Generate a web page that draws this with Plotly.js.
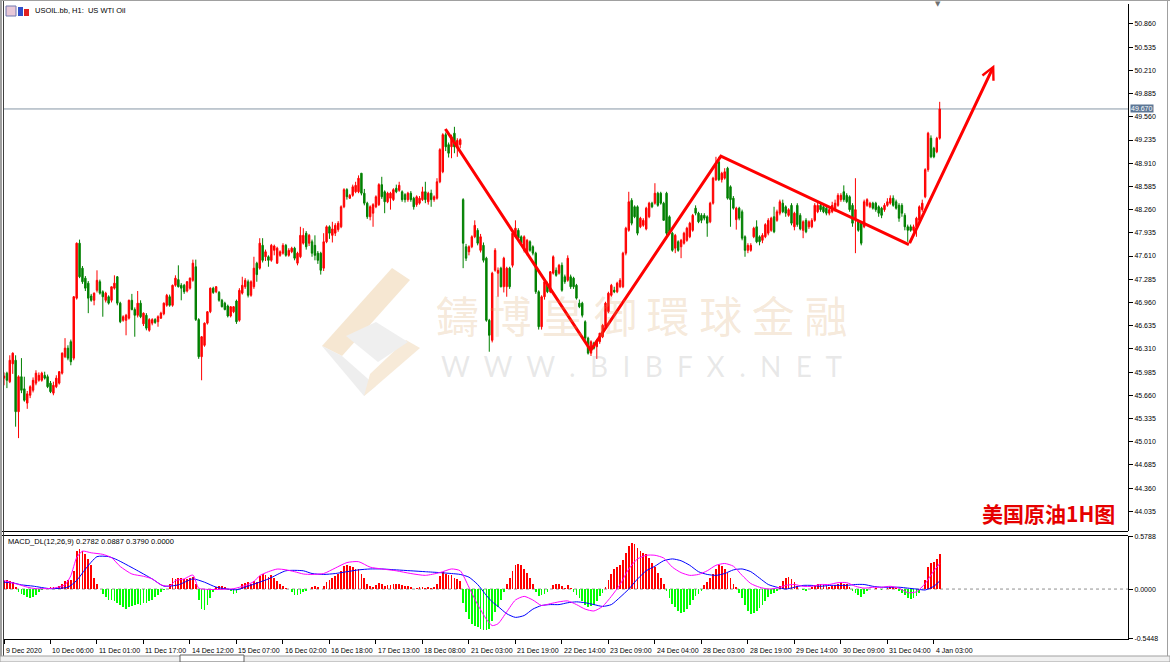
<!DOCTYPE html>
<html>
<head>
<meta charset="utf-8">
<script src="https://cdn.plot.ly/plotly-3.0.1.min.js"></script>
<style>
html,body{margin:0;padding:0;background:#ffffff;}
#chart{width:1170px;height:662px;}
</style>
</head>
<body>
<div id="chart"></div>
<script>
// ---------------- DATA ----------------
const openP = [
45.90,45.97,45.85,46.10,46.15,45.43,45.92,45.75,45.55,45.66,
45.73,45.83,45.87,45.87,45.94,45.92,45.83,45.69,45.78,45.83,
45.97,46.20,46.32,46.41,46.18,47.02,47.79,47.44,47.30,47.23,
47.05,46.99,47.13,47.25,47.11,46.99,47.04,46.99,47.16,47.32,
46.95,46.71,46.71,46.74,46.99,46.86,46.78,46.95,46.66,46.78,
46.57,46.67,46.72,46.69,46.74,46.80,46.92,47.04,46.92,47.20,
47.28,47.20,47.20,47.12,47.16,47.27,47.46,46.72,46.20,46.36,
46.67,46.83,47.16,47.11,47.10,46.99,46.95,46.91,46.77,46.83,
46.98,46.71,47.09,47.18,47.25,47.06,47.18,47.51,47.44,47.76,
47.60,47.60,47.55,47.69,47.51,47.62,47.65,47.76,47.62,47.67,
47.72,47.51,47.60,47.79,47.93,47.79,47.81,47.76,47.65,47.65,
47.44,47.81,48.02,47.90,47.93,47.98,48.02,48.30,48.54,48.42,
48.46,48.51,48.51,48.77,48.49,48.35,48.16,48.21,48.30,48.33,
48.61,48.51,48.37,48.42,48.40,48.56,48.53,48.51,48.47,48.40,
48.49,48.42,48.33,48.35,48.40,48.51,48.37,48.49,48.40,48.42,
48.65,48.79,49.31,49.17,49.14,49.33,49.14,49.17,48.40,47.74,
47.67,47.74,47.88,47.97,47.69,47.76,47.58,46.71,46.43,47.41,
47.37,47.44,47.18,47.18,47.44,47.48,47.88,47.97,47.88,47.69,
47.65,47.81,47.74,47.65,47.11,46.62,47.04,47.22,47.11,47.37,
47.41,47.37,47.48,47.32,47.27,47.32,47.30,47.20,46.95,46.95,
46.69,46.46,46.25,46.39,46.34,46.41,46.48,46.62,46.83,47.06,
47.13,47.11,47.18,47.18,47.65,47.97,48.39,48.30,48.30,48.02,
48.04,47.99,48.16,48.35,48.35,48.49,48.49,48.35,48.49,48.16,
47.93,47.72,47.81,47.74,47.79,47.83,47.88,47.97,48.28,48.21,
48.18,48.18,48.16,48.09,48.35,48.68,48.93,48.68,48.70,48.84,
48.58,48.42,48.12,48.28,48.23,47.88,47.69,47.69,47.88,48.02,
47.88,47.83,47.88,47.93,47.97,48.16,48.11,48.21,48.35,48.30,
48.18,48.32,48.02,48.32,48.18,47.97,48.11,48.02,48.02,48.11,
48.23,48.32,48.30,48.28,48.21,48.23,48.26,48.32,48.40,48.51,
48.46,48.44,48.32,48.12,48.09,48.07,48.02,48.32,48.30,48.35,
48.35,48.30,48.28,48.26,48.32,48.35,48.42,48.37,48.32,48.32,
48.18,48.02,48.02,47.97,48.02,48.11,48.26,48.44,48.82,49.26,
49.12,49.07,49.26];

const highP = [
45.98,45.99,46.22,46.26,46.22,45.94,46.18,45.92,45.72,45.80,
45.91,46.01,45.98,45.99,45.99,45.95,45.86,45.85,45.94,46.00,
46.26,46.46,46.36,46.44,47.05,47.80,47.84,47.47,47.33,47.26,
47.08,47.10,47.41,47.28,47.13,47.11,47.06,47.18,47.34,47.33,
46.97,46.78,46.80,47.00,47.08,46.89,47.12,46.99,46.82,46.81,
46.74,46.74,46.74,46.78,46.83,46.96,47.08,47.07,47.21,47.34,
47.48,47.23,47.22,47.26,47.31,47.56,47.56,46.74,46.49,46.68,
46.84,47.17,47.18,47.19,47.12,47.01,46.97,46.93,46.91,46.91,
47.00,47.16,47.32,47.30,47.28,47.27,47.60,47.53,47.86,47.86,
47.70,47.62,47.78,47.77,47.74,47.69,47.79,47.78,47.72,47.74,
47.74,47.67,48.02,48.00,47.96,47.92,47.84,47.90,47.68,47.67,
47.93,48.04,48.04,48.09,48.07,48.10,48.32,48.56,48.56,48.48,
48.61,48.65,48.74,48.77,48.55,48.37,48.32,48.35,48.46,48.63,
48.72,48.53,48.51,48.51,48.56,48.61,48.65,48.53,48.49,48.51,
48.52,48.44,48.46,48.45,48.58,48.65,48.51,48.54,48.46,48.70,
49.12,49.33,49.34,49.20,49.31,49.42,49.26,49.26,48.42,47.78,
47.76,47.90,48.11,48.00,47.92,47.80,47.60,46.73,47.39,47.72,
47.45,47.46,47.60,47.46,47.46,47.95,48.11,48.00,47.90,47.90,
47.85,47.83,47.76,47.67,47.13,47.06,47.27,47.25,47.40,47.62,
47.45,47.50,47.52,47.35,47.62,47.35,47.32,47.22,47.00,46.97,
46.71,46.48,46.43,46.41,46.45,46.53,46.66,46.97,47.11,47.22,
47.18,47.25,47.30,47.67,48.02,48.51,48.42,48.32,48.32,48.16,
48.14,48.30,48.37,48.37,48.63,48.51,48.51,48.37,48.51,48.18,
47.95,47.92,47.83,47.85,47.95,48.02,48.09,48.20,48.32,48.23,
48.21,48.21,48.18,48.37,48.72,49.00,49.00,48.79,48.84,48.86,
48.60,48.45,48.30,48.30,48.26,47.90,47.79,47.79,48.02,48.11,
47.90,47.93,48.07,48.14,48.16,48.30,48.26,48.40,48.40,48.32,
48.28,48.35,48.23,48.35,48.21,48.11,48.14,48.11,48.14,48.35,
48.37,48.35,48.32,48.30,48.28,48.37,48.40,48.49,48.49,48.60,
48.49,48.46,48.35,48.70,48.11,48.09,48.40,48.42,48.37,48.37,
48.37,48.32,48.30,48.35,48.42,48.46,48.46,48.40,48.35,48.35,
48.21,48.05,48.05,48.05,48.16,48.32,48.40,48.84,49.35,49.30,
49.14,49.28,49.77];

const lowP = [
45.80,45.76,45.83,45.96,45.22,45.06,45.69,45.57,45.47,45.62,
45.70,45.80,45.85,45.85,45.88,45.76,45.69,45.66,45.76,45.81,
45.95,46.18,46.15,46.08,46.15,47.00,47.30,47.22,47.12,46.81,
46.97,46.92,47.10,47.07,46.76,46.96,46.93,46.96,47.14,46.92,
46.67,46.69,46.50,46.72,46.85,46.48,46.75,46.74,46.63,46.57,
46.55,46.64,46.66,46.62,46.73,46.78,46.90,46.90,46.90,47.18,
47.17,46.99,47.08,47.10,47.14,47.25,46.70,46.17,45.87,46.34,
46.65,46.81,47.08,47.09,46.97,46.89,46.85,46.75,46.75,46.81,
46.66,46.69,47.07,47.15,47.03,47.04,47.15,47.25,47.42,47.52,
47.54,47.46,47.53,47.62,47.50,47.60,47.63,47.60,47.60,47.65,
47.55,47.48,47.58,47.77,47.70,47.75,47.60,47.55,47.50,47.35,
47.40,47.79,47.85,47.80,47.89,47.95,48.00,48.28,48.40,48.41,
48.44,48.49,48.49,48.46,48.32,48.13,48.11,48.02,48.28,48.31,
48.41,48.21,48.35,48.26,48.38,48.49,48.51,48.37,48.36,48.37,
48.37,48.26,48.30,48.33,48.38,48.35,48.33,48.30,48.37,48.40,
48.63,48.77,49.08,48.99,48.98,49.05,49.00,49.12,47.44,47.54,
47.62,47.72,47.86,47.76,47.66,47.52,46.69,46.27,46.40,47.39,
47.04,47.17,47.10,47.04,47.15,47.45,47.86,47.85,47.78,47.66,
47.62,47.67,47.62,47.08,46.58,46.58,47.00,47.09,47.09,47.35,
47.32,47.35,47.11,47.22,47.25,47.15,47.15,47.00,46.88,46.75,
46.43,46.23,46.21,46.30,46.17,46.38,46.46,46.60,46.81,47.04,
47.09,47.09,47.16,47.16,47.62,47.95,48.04,48.14,47.90,48.00,
48.02,47.97,48.14,48.28,48.33,48.30,48.33,48.11,47.90,47.93,
47.67,47.65,47.67,47.58,47.77,47.81,47.86,47.95,48.18,48.07,
48.07,48.11,47.88,48.07,48.33,48.66,48.66,48.64,48.68,48.40,
48.02,48.26,47.98,48.11,47.83,47.60,47.65,47.67,47.86,47.79,
47.76,47.79,47.86,47.90,47.95,47.93,48.09,48.18,48.21,48.16,
48.16,48.04,47.97,48.02,47.97,47.86,47.93,47.99,48.00,48.09,
48.21,48.23,48.21,48.18,48.18,48.21,48.23,48.30,48.37,48.37,
48.35,48.23,48.02,47.65,47.95,47.76,48.00,48.30,48.28,48.26,
48.23,48.16,48.14,48.23,48.30,48.33,48.30,48.26,48.09,48.16,
47.97,47.81,47.95,47.95,47.88,48.09,48.23,48.42,48.79,48.98,
48.98,49.05,49.24];

const closeP = [
45.93,45.87,46.15,46.25,45.43,45.92,45.73,45.59,45.68,45.78,
45.87,45.97,45.94,45.97,45.90,45.78,45.71,45.80,45.90,45.99,
46.25,46.32,46.18,46.13,47.04,47.79,47.32,47.25,47.16,47.02,
46.99,47.09,47.27,47.09,47.04,47.09,46.95,47.18,47.23,46.95,
46.69,46.76,46.78,46.99,46.86,46.78,46.95,46.76,46.81,46.60,
46.72,46.72,46.68,46.76,46.81,46.95,47.06,46.92,47.20,47.30,
47.18,47.16,47.11,47.25,47.30,47.51,46.72,46.20,46.48,46.67,
46.83,47.16,47.10,47.18,46.99,46.90,46.86,46.77,46.90,46.90,
46.69,47.13,47.20,47.27,47.06,47.25,47.44,47.35,47.79,47.55,
47.67,47.55,47.76,47.75,47.72,47.67,47.76,47.62,47.69,47.72,
47.58,47.65,47.90,47.90,47.74,47.90,47.65,47.62,47.55,47.41,
47.81,48.02,47.93,47.99,48.04,48.07,48.30,48.54,48.44,48.46,
48.58,48.60,48.70,48.49,48.35,48.16,48.30,48.33,48.44,48.61,
48.44,48.37,48.49,48.49,48.54,48.51,48.60,48.40,48.40,48.49,
48.40,48.30,48.44,48.42,48.51,48.40,48.49,48.40,48.44,48.65,
49.10,49.31,49.14,49.05,49.28,49.14,49.23,49.24,47.79,47.58,
47.74,47.88,48.04,47.79,47.88,47.55,46.71,46.50,47.37,47.69,
47.41,47.18,47.58,47.44,47.18,47.93,48.00,47.86,47.79,47.88,
47.83,47.69,47.65,47.11,46.62,47.04,47.25,47.11,47.39,47.60,
47.34,47.48,47.13,47.25,47.58,47.18,47.18,47.02,46.90,46.78,
46.46,46.25,46.41,46.32,46.43,46.53,46.64,46.95,47.09,47.20,
47.11,47.23,47.27,47.65,48.00,48.37,48.07,48.16,47.93,48.14,
48.11,48.28,48.35,48.30,48.49,48.32,48.35,48.11,47.93,47.95,
47.69,47.90,47.69,47.83,47.93,48.00,48.07,48.18,48.21,48.09,
48.11,48.14,48.07,48.35,48.70,48.89,48.68,48.77,48.79,48.42,
48.40,48.28,48.28,48.14,47.86,47.69,47.76,47.76,48.00,47.81,
47.81,47.90,48.05,48.11,48.14,47.95,48.23,48.37,48.23,48.21,
48.26,48.07,48.21,48.05,47.99,48.09,47.95,48.09,48.11,48.32,
48.32,48.26,48.23,48.21,48.26,48.32,48.35,48.46,48.46,48.40,
48.37,48.26,48.07,48.26,47.97,47.79,48.37,48.40,48.35,48.28,
48.26,48.21,48.18,48.32,48.37,48.42,48.32,48.28,48.14,48.21,
48.02,47.97,47.97,48.02,48.14,48.30,48.35,48.82,49.33,49.00,
49.00,49.26,49.67];

// MACD histogram (one per bar)
const macdHist = [
0.09,0.10,0.09,0.08,0.02,-0.03,-0.05,-0.07,-0.09,-0.10,
-0.09,-0.06,-0.03,-0.01,0.00,0.01,0.02,0.02,0.01,0.03,
0.05,0.09,0.10,0.10,0.20,0.42,0.44,0.42,0.38,0.33,
0.26,0.12,0.05,0.00,-0.05,-0.09,-0.12,-0.12,-0.13,-0.15,
-0.18,-0.20,-0.22,-0.20,-0.19,-0.18,-0.16,-0.17,-0.15,-0.15,
-0.13,-0.12,-0.09,-0.06,-0.03,-0.01,0.00,0.05,0.12,0.11,
0.12,0.12,0.11,0.11,0.12,0.13,0.06,-0.12,-0.22,-0.23,
-0.18,-0.10,-0.03,0.02,0.03,0.03,0.02,-0.01,-0.02,-0.05,
-0.04,0.00,0.05,0.07,0.08,0.06,0.09,0.08,0.14,0.16,
0.15,0.13,0.15,0.12,0.09,0.06,0.03,0.01,0.00,-0.03,
-0.06,-0.06,-0.05,-0.03,-0.02,0.00,0.02,0.03,0.02,0.00,
0.03,0.08,0.10,0.12,0.14,0.16,0.20,0.25,0.26,0.25,
0.24,0.22,0.22,0.17,0.12,0.06,0.03,0.02,0.04,0.07,
0.05,0.03,0.04,0.04,0.05,0.05,0.06,0.04,0.03,0.03,
0.02,0.00,0.01,0.02,0.02,0.01,0.02,0.01,0.02,0.06,
0.14,0.19,0.17,0.15,0.15,0.12,0.11,0.09,-0.15,-0.25,
-0.33,-0.38,-0.40,-0.42,-0.44,-0.45,-0.45,-0.44,-0.35,-0.25,
-0.20,-0.12,-0.03,0.05,0.12,0.20,0.26,0.27,0.26,0.22,
0.18,0.12,0.05,-0.03,-0.08,-0.07,-0.05,-0.03,0.00,0.04,
0.05,0.06,0.03,0.01,0.04,0.01,-0.03,-0.07,-0.10,-0.13,
-0.17,-0.20,-0.19,-0.17,-0.13,-0.08,-0.04,0.02,0.10,0.17,
0.22,0.24,0.26,0.32,0.40,0.47,0.50,0.49,0.45,0.42,
0.40,0.38,0.34,0.28,0.24,0.18,0.12,0.06,-0.02,-0.10,
-0.16,-0.20,-0.24,-0.26,-0.25,-0.22,-0.18,-0.12,-0.08,-0.05,
-0.02,0.04,0.08,0.12,0.17,0.22,0.26,0.25,0.22,0.18,
0.12,0.06,0.02,-0.04,-0.10,-0.18,-0.24,-0.27,-0.26,-0.24,
-0.21,-0.17,-0.13,-0.09,-0.05,-0.04,-0.02,0.03,0.09,0.12,
0.13,0.11,0.08,0.03,0.00,-0.01,-0.02,0.00,0.02,0.04,
0.05,0.05,0.04,0.03,0.02,0.03,0.04,0.06,0.07,0.06,
0.05,0.02,-0.02,-0.04,-0.07,-0.09,-0.05,-0.02,0.00,0.00,
0.01,0.00,-0.01,0.00,0.01,0.02,0.02,0.01,-0.02,-0.04,
-0.07,-0.10,-0.11,-0.10,-0.08,-0.04,0.00,0.10,0.24,0.28,
0.30,0.33,0.379];

// MACD main line (magenta), read at these bar positions
const macdIdx = [0,5,8,11,17,21,23,25,27,30,34,37,40,44,48,51,54,57,59,62,65,67,70,74,79,83,86,88,91,94,97,100,103,106,110,114,118,122,126,130,135,140,145,150,154,157,160,163,166,168,170,173,176,179,182,185,188,191,194,197,200,203,206,209,212,215,218,221,224,227,230,233,236,239,242,245,248,251,254,257,260,263,266,269,272,275,278,281,284,287,290,293,296,299,302,305,308,311,314,317,320,322];
const macdLine = [0.093,0.05,0.021,0.004,0.01,0.046,0.147,0.344,0.415,0.397,0.38,0.344,0.247,0.165,0.14,0.111,0.046,0.032,0.093,0.111,0.154,0.01,-0.004,-0.004,0.004,0.039,0.082,0.147,0.19,0.219,0.211,0.19,0.165,0.16,0.17,0.23,0.29,0.30,0.24,0.22,0.20,0.17,0.15,0.18,0.22,0.20,0.02,-0.17,-0.33,-0.40,-0.38,-0.25,-0.12,-0.08,-0.12,-0.18,-0.16,-0.14,-0.13,-0.17,-0.22,-0.24,-0.19,-0.08,0.05,0.22,0.33,0.37,0.37,0.34,0.24,0.18,0.15,0.16,0.20,0.26,0.28,0.25,0.15,0.06,0.02,0.0,0.01,0.04,0.05,0.03,0.03,0.05,0.05,0.07,0.07,0.03,0.01,0.02,0.02,0.03,0.01,-0.04,-0.03,0.06,0.20,0.2782];

// Signal line (blue)
const signalIdx = [0,3,6,10,16,22,25,28,32,36,39,45,51,55,60,65,69,73,80,84,91,97,103,106,110,114,118,122,126,130,135,140,145,150,154,157,160,163,166,168,170,173,176,179,182,185,188,191,194,197,200,203,206,209,212,215,218,221,224,227,230,233,236,239,242,245,248,251,254,257,260,263,266,269,272,275,278,281,284,287,290,293,296,299,302,305,308,311,314,317,320,322];
const signalLine = [0.075,0.068,0.046,0.032,0.004,0.021,0.093,0.218,0.355,0.355,0.319,0.218,0.111,0.032,0.046,0.111,0.075,0.021,-0.008,0.032,0.111,0.20,0.20,0.17,0.16,0.17,0.19,0.21,0.22,0.22,0.21,0.20,0.19,0.18,0.17,0.16,0.13,0.05,-0.07,-0.14,-0.19,-0.27,-0.31,-0.29,-0.22,-0.18,-0.17,-0.17,-0.15,-0.14,-0.15,-0.17,-0.19,-0.17,-0.09,0.0,0.11,0.20,0.25,0.31,0.33,0.31,0.26,0.19,0.16,0.15,0.17,0.21,0.22,0.19,0.12,0.05,0.02,0.0,0.02,0.04,0.04,0.03,0.04,0.04,0.04,0.05,0.05,0.03,0.02,0.02,0.02,0.01,0.0,-0.01,0.03,0.0887];

// Hand-drawn trend path (bar position, price)
const trendIdx   = [151.9, 201.9, 246.7, 311.4, 340.8];
const trendPrice = [49.39, 46.29, 49.01, 47.77, 50.29];

const currentPrice = 49.670;

const priceTicks = [50.860,50.535,50.210,49.885,49.560,49.235,48.910,48.585,48.260,47.935,47.610,47.285,46.960,46.635,46.310,45.985,45.660,45.335,45.010,44.685,44.360,44.035];
const macdTicks = [0.5788, 0.0, -0.5448];
const macdTickText = ['0.5788','0.0000','-0.5448'];

const timeTickIdx = [0,16,32,48,64,80,96,112,128,144,160,176,192,208,224,240,256,272,288,304,320];
const timeTickLabels = ["9 Dec 2020","10 Dec 06:00","11 Dec 01:00","11 Dec 17:00","14 Dec 12:00","15 Dec 07:00","16 Dec 02:00","16 Dec 18:00","17 Dec 13:00","18 Dec 08:00","21 Dec 03:00","21 Dec 19:00","22 Dec 14:00","23 Dec 09:00","24 Dec 04:00","28 Dec 03:00","28 Dec 19:00","29 Dec 14:00","30 Dec 09:00","31 Dec 04:00","4 Jan 03:00"];

// ---------------- STYLE / LAYOUT ----------------
const W = 1170, H = 662;
const ML = 4, MR = 42, MT = 4, MB = 23;
const PW = W - ML - MR, PH = H - MT - MB;
const px2paperX = px => (px - ML) / PW;
const px2paperY = py => (H - MB - py) / PH;

const FONT = 'Liberation Sans, Arial, sans-serif';
const barIdx = closeP.map((_, i) => i);

const traces = [
  {
    type: 'candlestick', x: barIdx, open: openP, high: highP, low: lowP, close: closeP,
    xaxis: 'x', yaxis: 'y',
    increasing: {line: {color: '#ff0000', width: 1}, fillcolor: '#ff0000'},
    decreasing: {line: {color: '#008000', width: 1}, fillcolor: '#008000'},
    whiskerwidth: 0, hoverinfo: 'skip', showlegend: false
  },
  {
    type: 'scatter', mode: 'lines', x: trendIdx.slice(0, 4), y: trendPrice.slice(0, 4),
    xaxis: 'x', yaxis: 'y', line: {color: '#ff0000', width: 3}, hoverinfo: 'skip', showlegend: false
  },
  {
    type: 'bar', x: barIdx, y: macdHist, xaxis: 'x', yaxis: 'y2', width: 0.6,
    marker: {color: macdHist.map(v => v >= 0 ? '#ff0000' : '#00ff00'), line: {width: 0}},
    hoverinfo: 'skip', showlegend: false
  },
  {
    type: 'scatter', mode: 'lines', x: signalIdx, y: signalLine, xaxis: 'x', yaxis: 'y2',
    line: {color: '#0000ff', width: 1, shape: 'spline', smoothing: 0.6}, hoverinfo: 'skip', showlegend: false
  },
  {
    type: 'scatter', mode: 'lines', x: macdIdx, y: macdLine, xaxis: 'x', yaxis: 'y2',
    line: {color: '#ff00ff', width: 1, shape: 'spline', smoothing: 0.6}, hoverinfo: 'skip', showlegend: false
  }
];

const annotations = [];
// time labels (left-aligned after tick, as in MT4)
timeTickIdx.forEach((ix, k) => {
  annotations.push({
    x: ix, xref: 'x', y: px2paperY(650), yref: 'paper', xanchor: 'left', yanchor: 'middle',
    xshift: 0, text: timeTickLabels[k], showarrow: false, font: {family: FONT, size: 7, color: '#000'}
  });
});
// header
annotations.push({x: px2paperX(33), y: px2paperY(11), xref: 'paper', yref: 'paper', xanchor: 'left', yanchor: 'middle',
  text: 'USOIL.bb, H1:  US WTI Oil', showarrow: false, font: {family: FONT, size: 7.5, color: '#000'}});
annotations.push({x: px2paperX(6), y: px2paperY(541), xref: 'paper', yref: 'paper', xanchor: 'left', yanchor: 'middle',
  text: 'MACD_DL(12,26,9) 0.2782 0.0887 0.3790 0.0000', showarrow: false, font: {family: FONT, size: 7.5, color: '#000'}});
// watermark
annotations.push({x: px2paperX(641), y: px2paperY(314), xref: 'paper', yref: 'paper', xanchor: 'center', yanchor: 'middle',
  text: '鑄 博 皇 御 環 球 金 融', showarrow: false, font: {family: 'Noto Sans CJK TC', size: 43, color: 'rgba(215,160,95,0.24)'}});
annotations.push({x: px2paperX(641), y: px2paperY(366), xref: 'paper', yref: 'paper', xanchor: 'center', yanchor: 'middle',
  text: 'W\u00a0\u00a0W\u00a0\u00a0W\u00a0\u00a0.\u00a0\u00a0B\u00a0\u00a0I\u00a0\u00a0B\u00a0\u00a0F\u00a0\u00a0X\u00a0\u00a0.\u00a0\u00a0N\u00a0\u00a0E\u00a0\u00a0T',
  showarrow: false, font: {family: 'Lato, sans-serif', size: 28, color: 'rgba(150,150,150,0.22)'}});
// red caption
annotations.push({x: px2paperX(1117), y: px2paperY(513), xref: 'paper', yref: 'paper', xanchor: 'right', yanchor: 'middle',
  text: '<b>美国原油1H图</b>', showarrow: false, font: {family: 'Noto Sans CJK SC', size: 21, color: '#e60000'}});
// current price tag
annotations.push({x: 1, xref: 'paper', y: currentPrice, yref: 'y', xanchor: 'left', yanchor: 'middle', xshift: 2,
  text: currentPrice.toFixed(3), showarrow: false, bgcolor: '#5d7795', borderpad: 0,
  font: {family: FONT, size: 7, color: '#ffffff'}});
// arrow head of the trend path
annotations.push({x: trendIdx[4], y: trendPrice[4], xref: 'x', yref: 'y', ax: trendIdx[3], ay: trendPrice[3],
  axref: 'x', ayref: 'y', showarrow: true, arrowhead: 5, arrowsize: 0.8, arrowwidth: 3, arrowcolor: '#ff0000', text: ''});
// small shift marker at the top
annotations.push({x: px2paperX(938), y: px2paperY(4), xref: 'paper', yref: 'paper', xanchor: 'center', yanchor: 'middle',
  text: '▼', showarrow: false, font: {family: 'DejaVu Sans', size: 7, color: '#707070'}});

const shapes = [
  {type: 'line', xref: 'paper', x0: 0, x1: 1, yref: 'y', y0: currentPrice, y1: currentPrice, line: {color: '#8796a6', width: 1}, layer: 'below'},
  {type: 'line', xref: 'paper', x0: 0, x1: 1, yref: 'y2', y0: 0, y1: 0, line: {color: '#909090', width: 1, dash: 'dot'}, layer: 'below'},
  {type: 'line', xref: 'paper', yref: 'paper', x0: px2paperX(0), x1: 1, y0: px2paperY(531.5), y1: px2paperY(531.5), line: {color: '#000', width: 1}},
  {type: 'line', xref: 'paper', yref: 'paper', x0: px2paperX(0), x1: 1, y0: px2paperY(535.5), y1: px2paperY(535.5), line: {color: '#000', width: 1}},
  {type: 'line', xref: 'paper', yref: 'paper', x0: px2paperX(1), x1: px2paperX(1), y0: px2paperY(0), y1: px2paperY(656), line: {color: '#a0a0a0', width: 2}},
  {type: 'line', xref: 'paper', yref: 'paper', x0: px2paperX(3.5), x1: px2paperX(3.5), y0: px2paperY(0), y1: px2paperY(656), line: {color: '#404040', width: 1}},
  {type: 'line', xref: 'paper', yref: 'paper', x0: px2paperX(0), x1: px2paperX(1170), y0: px2paperY(0.5), y1: px2paperY(0.5), line: {color: '#a0a0a0', width: 1}},
  {type: 'line', xref: 'paper', yref: 'paper', x0: px2paperX(1167.5), x1: px2paperX(1167.5), y0: px2paperY(0), y1: px2paperY(656), line: {color: '#a0a0a0', width: 1}},
  {type: 'rect', xref: 'paper', yref: 'paper', x0: px2paperX(0), x1: px2paperX(1170), y0: px2paperY(656), y1: px2paperY(662), fillcolor: '#f0f0f0', line: {color: '#a0a0a0', width: 1}},
  {type: 'rect', xref: 'paper', yref: 'paper', x0: px2paperX(180), x1: px2paperX(244), y0: px2paperY(655), y1: px2paperY(662), fillcolor: '#ffffff', line: {color: '#606060', width: 1}},
  {type: 'rect', xref: 'paper', yref: 'paper', x0: px2paperX(6), x1: px2paperX(16), y0: px2paperY(6), y1: px2paperY(16), fillcolor: '#e8c8d8', line: {color: '#7078b0', width: 1}},
  {type: 'rect', xref: 'paper', yref: 'paper', x0: px2paperX(18), x1: px2paperX(23), y0: px2paperY(7), y1: px2paperY(16), fillcolor: '#3050c8', line: {width: 0}},
  {type: 'rect', xref: 'paper', yref: 'paper', x0: px2paperX(24), x1: px2paperX(29), y0: px2paperY(9), y1: px2paperY(16), fillcolor: '#e02020', line: {width: 0}}
];

const logoSvg = '<svg xmlns="http://www.w3.org/2000/svg" width="106" height="132" viewBox="0 0 106 132">' +
  '<polygon points="76,2 94,14 26,90 6,80" fill="#f6e7d2"/>' +
  '<polygon points="6,80 26,90 60,120 48,130" fill="#eeeeee"/>' +
  '<polygon points="48,130 60,120 104,82 90,74 54,108" fill="#f7ead8"/>' +
  '<polygon points="30,70 60,56 92,76 62,96" fill="#efefef"/>' +
  '</svg>';

const layout = {
  width: W, height: H,
  margin: {l: ML, r: MR, t: MT, b: MB, pad: 0},
  paper_bgcolor: '#ffffff', plot_bgcolor: 'rgba(0,0,0,0)',
  showlegend: false, dragmode: false, bargap: 0,
  xaxis: {
    domain: [0, 1], anchor: 'y2', range: [0, 386.8],
    showgrid: false, zeroline: false, showline: true, linecolor: '#000', linewidth: 1,
    ticks: 'outside', ticklen: 4, tickcolor: '#000', tickvals: timeTickIdx, showticklabels: false,
    rangeslider: {visible: false}, fixedrange: true
  },
  yaxis: {
    domain: [px2paperY(531), 1], anchor: 'x', side: 'right', range: [43.759, 51.14],
    showgrid: false, zeroline: false, showline: true, linecolor: '#000', linewidth: 1,
    ticks: 'outside', ticklen: 4, tickcolor: '#000',
    tickvals: priceTicks, ticktext: priceTicks.map(v => v.toFixed(3)),
    tickfont: {family: FONT, size: 7, color: '#000'}, fixedrange: true
  },
  yaxis2: {
    domain: [0, px2paperY(536)], anchor: 'x', side: 'right', range: [-0.547, 0.581],
    showgrid: false, zeroline: false, showline: true, linecolor: '#000', linewidth: 1,
    ticks: 'outside', ticklen: 4, tickcolor: '#000',
    tickvals: macdTicks, ticktext: macdTickText,
    tickfont: {family: FONT, size: 7, color: '#000'}, fixedrange: true
  },
  annotations: annotations,
  shapes: shapes,
  images: [{
    source: 'data:image/svg+xml;charset=utf-8,' + encodeURIComponent(logoSvg),
    xref: 'paper', yref: 'paper', x: px2paperX(316), y: px2paperY(266),
    sizex: 106 / PW, sizey: 132 / PH, xanchor: 'left', yanchor: 'top', sizing: 'stretch', layer: 'below'
  }]
};

Plotly.newPlot('chart', traces, layout, {displayModeBar: false, staticPlot: true});
</script>
</body>
</html>
